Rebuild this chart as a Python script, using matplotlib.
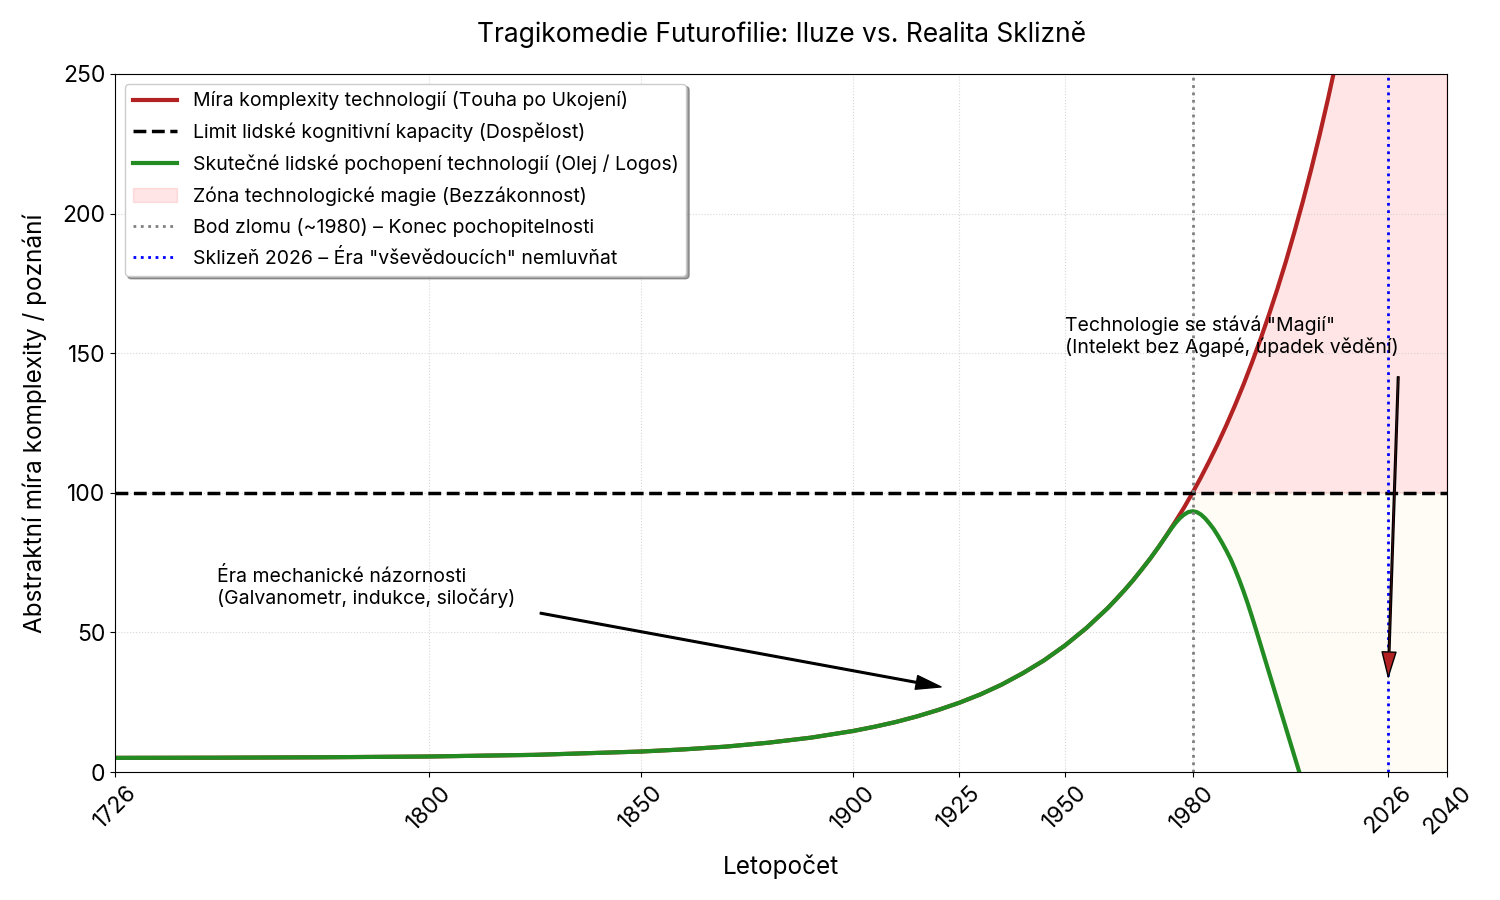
import matplotlib
matplotlib.use("Agg")
import matplotlib.pyplot as plt
import numpy as np

plt.rcParams['font.family'] = ['Inter', 'DejaVu Sans']

# rok -> mira komplexity technologii
red_years = [1726, 1750, 1775, 1800, 1825, 1850, 1860, 1870, 1880, 1890,
             1900, 1905, 1910, 1915, 1920, 1925, 1930, 1935, 1940, 1945, 1950, 1955,
             1960, 1962, 1964, 1966, 1968, 1970, 1972, 1974, 1976, 1978,
             1980, 1982, 1984, 1986, 1988, 1990, 1992, 1994, 1996, 1998,
             2000, 2002, 2004, 2006, 2008, 2010, 2012, 2014, 2016, 2018, 2020,
             2030, 2040]
red_vals = [5.07, 5.13, 5.28, 5.56, 6.15, 7.34, 8.1, 9.1, 10.5, 12.3,
            14.7, 16.2, 17.9, 19.9, 22.2, 24.8, 27.8, 31.3, 35.4, 40.0, 45.4, 51.6,
            58.7, 61.9, 65.2, 68.7, 72.5, 76.4, 80.6, 85.1, 89.8, 94.7,
            100.0, 105.6, 111.5, 117.7, 124.3, 131.3, 138.7, 146.6, 154.9, 163.7,
            173.0, 182.8, 193.3, 204.3, 216.0, 228.4, 241.5, 255.4, 270.0, 285.6, 302.0,
            400.0, 530.0]

# skutecne pochopeni technologii
green_years = [1726, 1750, 1775, 1800, 1825, 1850, 1860, 1870, 1880, 1890,
               1900, 1905, 1910, 1915, 1920, 1925, 1930, 1935, 1940, 1945, 1950, 1955,
               1960, 1962, 1964, 1966, 1968, 1970, 1972, 1974, 1975, 1976, 1977, 1978,
               1979, 1980, 1981, 1982, 1983, 1984, 1985, 1986, 1987, 1988, 1989,
               1990, 1991, 1992, 1993, 1994, 1995, 1996, 1997, 1998, 1999,
               2000, 2001, 2002, 2003, 2004, 2005, 2006, 2008, 2010, 2020, 2030, 2040]
green_vals = [5.07, 5.13, 5.28, 5.56, 6.15, 7.34, 8.1, 9.1, 10.5, 12.3,
              14.7, 16.2, 17.9, 19.9, 22.2, 24.8, 27.8, 31.3, 35.4, 40.0, 45.4, 51.6,
              58.7, 61.9, 65.2, 68.7, 72.5, 76.4, 80.6, 85.0, 87.2, 89.2, 90.9, 92.2,
              93.1, 93.4, 93.1, 92.2, 90.8, 89.0, 87.0, 84.6, 82.0, 79.2, 76.2,
              72.7, 68.9, 64.8, 60.4, 55.7, 50.8, 45.8, 40.8, 35.8, 30.8,
              25.8, 20.8, 15.8, 10.8, 5.8, 0.8, -4.2, -14.0, -24.0, -75.0, -130.0, -190.0]

limit = 100
break_year = 1980
harvest_year = 2026
tick_years = [1726, 1800, 1850, 1900, 1925, 1950, 1980, 2026, 2040]

red_years = np.array(red_years)
green_years = np.array(green_years)

fig, ax = plt.subplots(figsize=(15, 9), dpi=100)
fig.subplots_adjust(left=0.0767, right=0.9647, top=0.9178, bottom=0.1422)

ax.plot(red_years, red_vals, color='firebrick', lw=3,
        label='Míra komplexity technologií (Touha po Ukojení)')
ax.axhline(limit, color='black', ls='--', lw=2.5,
           label='Limit lidské kognitivní kapacity (Dospělost)')
ax.plot(green_years, green_vals, color='forestgreen', lw=3,
        label='Skutečné lidské pochopení technologií (Olej / Logos)')
ax.fill_between(red_years, limit, red_vals, where=red_years >= break_year,
                color='red', alpha=0.1,
                label='Zóna technologické magie (Bezzákonnost)')
ax.fill_between(green_years, green_vals, limit, where=green_years >= break_year,
                color='orange', alpha=0.04)
ax.axvline(break_year, color='gray', ls=':', lw=2,
           label='Bod zlomu (~1980) – Konec pochopitelnosti')
ax.axvline(harvest_year, color='blue', ls=':', lw=2,
           label='Sklizeň 2026 – Éra "vševědoucích" nemluvňat')

ax.annotate('Éra mechanické názornosti\n(Galvanometr, indukce, siločáry)',
            xy=(1926, 29), xytext=(1750, 60), fontsize=14,
            arrowprops=dict(facecolor='black', shrink=0.05, width=1.2,
                            headwidth=10, headlength=18))
ax.annotate('Technologie se stává "Magií"\n(Intelekt bez Agapé, úpadek vědění)',
            xy=(2026, 28), xytext=(1950, 150), fontsize=14,
            arrowprops=dict(facecolor='firebrick', shrink=0.05, width=1.2,
                            headwidth=10, headlength=18))

ax.set_xlim(1726, 2040)
ax.set_ylim(0, 250)
ax.set_xticks(tick_years)
ax.set_xticklabels([str(y) for y in tick_years], rotation=45, fontsize=16.5)
ax.tick_params(axis='y', labelsize=16.5)
ax.grid(True, ls=':', color='lightgray', alpha=0.9)

ax.set_title('Tragikomedie Futurofilie: Iluze vs. Realita Sklizně', fontsize=19, pad=23)
ax.set_xlabel('Letopočet', fontsize=17.5, labelpad=12)
ax.set_ylabel('Abstraktní míra komplexity / poznání', fontsize=17.5, labelpad=11)
ax.legend(loc='upper left', fontsize=14, shadow=True, framealpha=1,
          handlelength=2.3, labelspacing=0.63)

plt.savefig('out.png', dpi=100)
